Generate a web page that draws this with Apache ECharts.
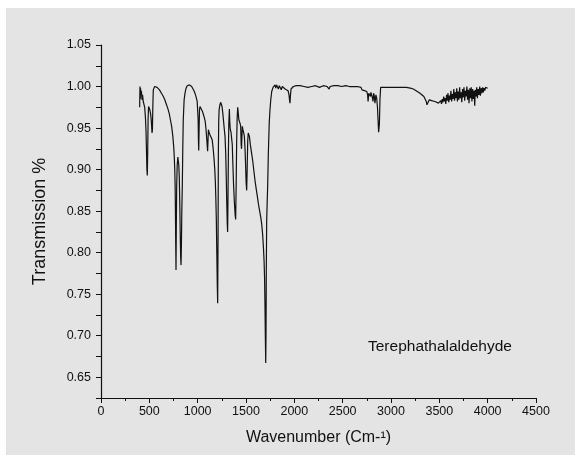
<!DOCTYPE html>
<html><head><meta charset="utf-8">
<script src="https://cdn.jsdelivr.net/npm/echarts@6/dist/echarts.min.js"></script>
<style>
html,body{margin:0;padding:0;background:#fff;width:575px;height:455px;overflow:hidden}
#c{position:absolute;left:6px;top:8px;width:569px;height:447px;background:#e4e4e4}
</style>
</head><body><div id="c"></div>
<script>
const wavenumbers = [
400,403,406,409,413,418,424,430,437,444,452,460,466,471,475,479,483,487,492,498,505,512,518,524,528,532,536,541,548,555,562,570,580,592,605,618,630,645,660,675,690,705,718,731,743,752,758,763,767,770,773,776,779,783,788,795,800,805,810,815,820,824,828,832,836,841,846,851,860,869,880,892,903,915,927,938,950,962,972,985,995,1000,1005,1008,1011,1015,1019,1024,1032,1040,1050,1060,1070,1078,1085,1092,1098,1103,1107,1111,1118,1127,1136,1145,1150,1156,1162,1170,1177,1183,1188,1193,1198,1203,1207,1211,1214,1218,1222,1230,1238,1245,1252,1260,1268,1276,1283,1290,1296,1301,1306,1310,1314,1318,1322,1328,1333,1338,1345,1352,1358,1364,1372,1380,1388,1393,1398,1403,1408,1414,1420,1426,1433,1440,1445,1450,1454,1458,1462,1468,1475,1483,1490,1496,1501,1507,1512,1518,1523,1528,1535,1545,1559,1570,1582,1593,1605,1617,1628,1640,1652,1662,1672,1680,1687,1692,1696,1700,1704,1707,1710,1714,1719,1724,1731,1740,1748,1757,1766,1780,1792,1800,1808,1817,1825,1835,1845,1855,1865,1875,1890,1905,1920,1935,1945,1950,1955,1960,1966,1975,1990,2005,2020,2040,2060,2080,2100,2120,2140,2160,2180,2200,2220,2240,2260,2280,2300,2320,2340,2360,2370,2390,2410,2430,2450,2470,2490,2510,2530,2550,2570,2590,2610,2630,2650,2670,2690,2700,2712,2725,2738,2750,2758,2763,2766,2770,2780,2787,2792,2800,2808,2814,2820,2828,2834,2838,2844,2852,2860,2866,2872,2876,2880,2886,2893,2905,2920,2940,2960,2980,3000,3020,3040,3060,3080,3100,3120,3140,3160,3180,3200,3231,3260,3280,3300,3320,3340,3355,3365,3372,3380,3388,3396,3405,3420,3440,3455,3470,3490,3507,3515,3522,3530,3537,3545,3552,3560,3567,3575,3582,3590,3597,3605,3612,3620,3627,3635,3642,3650,3657,3665,3672,3680,3687,3695,3702,3710,3717,3725,3732,3740,3747,3755,3762,3770,3777,3785,3792,3800,3807,3815,3822,3830,3837,3845,3852,3860,3866,3872,3880,3887,3894,3902,3910,3918,3925,3933,3940,3948,3955,3963,3970,3978,3985,3993,4000
];
const transmission = [
0.975,1.000,0.985,0.998,0.990,0.995,0.984,0.990,0.982,0.984,0.975,0.962,0.945,0.920,0.900,0.893,0.920,0.960,0.976,0.974,0.972,0.968,0.962,0.952,0.944,0.948,0.975,0.996,0.998,1.000,0.998,1.001,0.999,0.998,0.996,0.994,0.991,0.988,0.984,0.979,0.974,0.968,0.960,0.952,0.940,0.928,0.915,0.900,0.880,0.850,0.810,0.779,0.830,0.880,0.905,0.915,0.917,0.905,0.890,0.860,0.820,0.795,0.785,0.810,0.850,0.880,0.925,0.960,0.984,0.992,0.998,1.001,1.002,1.002,1.001,1.000,0.998,0.995,0.992,0.987,0.982,0.980,0.960,0.935,0.923,0.950,0.972,0.976,0.975,0.974,0.970,0.966,0.962,0.958,0.950,0.940,0.930,0.922,0.935,0.948,0.945,0.942,0.940,0.940,0.936,0.930,0.923,0.912,0.900,0.885,0.865,0.840,0.800,0.760,0.739,0.820,0.919,0.960,0.972,0.978,0.981,0.979,0.976,0.968,0.958,0.948,0.940,0.920,0.890,0.860,0.835,0.825,0.870,0.920,0.955,0.973,0.955,0.948,0.945,0.944,0.930,0.907,0.880,0.860,0.845,0.840,0.880,0.930,0.960,0.975,0.968,0.960,0.958,0.955,0.952,0.930,0.925,0.940,0.952,0.948,0.945,0.940,0.925,0.905,0.885,0.875,0.900,0.935,0.944,0.946,0.940,0.930,0.919,0.910,0.898,0.887,0.877,0.868,0.859,0.851,0.843,0.835,0.822,0.807,0.790,0.770,0.740,0.700,0.667,0.700,0.779,0.839,0.860,0.879,0.919,0.955,0.972,0.985,0.994,0.999,1.001,1.002,0.998,1.002,1.000,0.997,1.001,0.999,0.996,1.000,0.999,0.997,0.996,0.995,0.990,0.984,0.980,0.990,0.997,0.999,1.000,0.999,1.001,1.000,1.001,0.999,1.000,1.001,0.999,1.000,1.000,0.999,1.001,1.000,0.999,1.000,1.001,0.999,1.000,0.997,1.000,1.000,1.001,1.000,1.001,0.999,1.000,1.000,1.001,1.000,1.000,1.001,1.000,0.999,1.000,1.000,0.999,0.996,0.994,0.995,0.993,0.994,0.990,0.982,0.980,0.992,0.994,0.988,0.993,0.990,0.986,0.982,0.992,0.988,0.980,0.978,0.990,0.986,0.975,0.960,0.945,0.943,0.955,0.985,0.999,1.000,0.999,1.000,0.999,1.000,0.999,1.000,0.999,1.000,0.999,1.000,0.999,0.999,0.999,0.998,0.998,0.997,0.995,0.993,0.992,0.990,0.988,0.986,0.982,0.978,0.9765,0.980,0.984,0.985,0.983,0.982,0.982,0.981,0.980,0.980,0.983,0.979,0.985,0.981,0.988,0.982,0.986,0.979,0.990,0.983,0.992,0.981,0.989,0.984,0.995,0.982,0.991,0.985,0.997,0.983,0.993,0.986,0.998,0.982,0.994,0.984,0.999,0.986,0.993,0.981,0.997,0.987,0.999,0.983,0.995,0.988,1.000,0.984,0.996,0.980,0.998,0.986,0.999,0.982,0.997,0.985,0.995,0.977,0.996,0.988,0.999,0.986,0.997,0.990,1.000,0.989,0.998,0.992,0.999,0.993,0.998,0.995,0.999,0.997,0.999,0.998
];
const xTickLabels = ['0','500','1000','1500','2000','2500','3000','3500','4000','4500'];
const yTickLabels = ['0.65','0.70','0.75','0.80','0.85','0.90','0.95','1.00','1.05'];
const seriesName = 'Terephathalaldehyde';

const pts = wavenumbers.map((w, i) => [w, transmission[i]]);
const chart = echarts.init(document.getElementById('c'), null, {renderer: 'canvas'});
const font = 'Liberation Sans, Arial, sans-serif';
chart.setOption({
  animation: false,
  backgroundColor: '#e4e4e4',
  grid: {left: 95, right: 39, top: 37, bottom: 57, containLabel: false},
  xAxis: {
    type: 'value', min: 0, max: 4500, interval: 500,
    name: 'Wavenumber (Cm-¹)', nameLocation: 'middle', nameGap: 32,
    nameTextStyle: {fontFamily: font, fontSize: 16, color: '#111'},
    axisLine: {show: true, lineStyle: {color: '#111', width: 1.2}},
    axisTick: {show: true, length: 5, lineStyle: {color: '#111'}},
    minorTick: {show: true, splitNumber: 2, length: 3, lineStyle: {color: '#111'}},
    splitLine: {show: false},
    axisLabel: {fontFamily: font, fontSize: 12.5, color: '#111', margin: 7,
      formatter: v => xTickLabels[Math.round(v / 500)] || ''}
  },
  yAxis: {
    type: 'value', min: 0.625, max: 1.05, interval: 0.025,
    name: 'Transmission %', nameLocation: 'middle', nameGap: 52, nameRotate: 90,
    nameTextStyle: {fontFamily: font, fontSize: 18, color: '#111'},
    axisLine: {show: true, lineStyle: {color: '#111', width: 1.2}},
    axisTick: {show: true, length: 5, lineStyle: {color: '#111'}},
    splitLine: {show: false},
    axisLabel: {fontFamily: font, fontSize: 12.5, color: '#111', margin: 10,
      formatter: v => {
        const k = Math.round(v * 1000);
        if (k % 50 !== 0) return '';
        return yTickLabels[(k - 650) / 50] || '';
      }}
  },
  graphic: [{
    type: 'text', left: 362, top: 331,
    style: {text: seriesName, font: '15.5px Liberation Sans, Arial, sans-serif', fill: '#111'}
  }],
  series: [{
    type: 'line', name: seriesName, data: pts, showSymbol: false, symbol: 'none',
    lineStyle: {color: '#111', width: 1.2}
  }]
});
</script>
</body></html>
